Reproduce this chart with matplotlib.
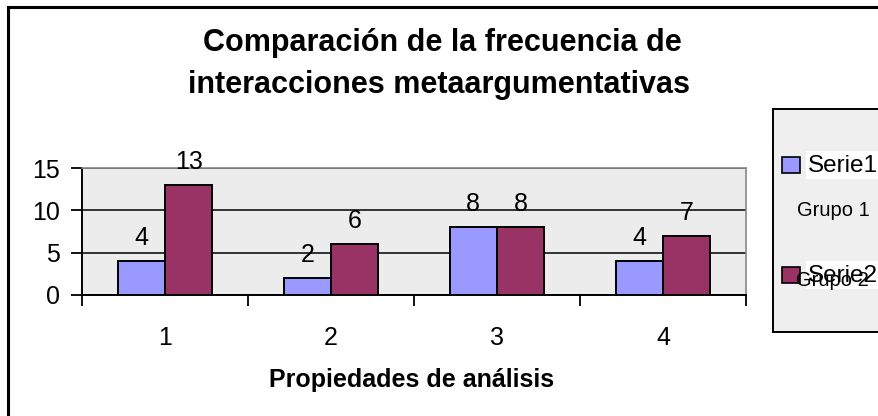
import matplotlib
matplotlib.use("Agg")
import matplotlib.pyplot as plt
from matplotlib.patches import Rectangle
import numpy as np

categories = ["1", "2", "3", "4"]
serie1 = [4, 2, 8, 4]
serie2 = [13, 6, 8, 7]
series_names = ["Serie1", "Serie2"]
group_names = ["Grupo 1", "Grupo 2"]
yticks = [0, 5, 10, 15]
title = "Comparación de la frecuencia de\ninteracciones metaargumentativas"
xlabel = "Propiedades de análisis"

W, H = 879, 416
plt.rcParams['font.family'] = ['Liberation Sans', 'DejaVu Sans']
fig = plt.figure(figsize=(W / 100, H / 100), dpi=100)

def fx(px):
    return px / W

def fy(py):
    return 1 - py / H

# outer frame
fig.patches.append(Rectangle((fx(8), fy(460)), 1.2, fy(7) - fy(460), transform=fig.transFigure,
                             fill=False, edgecolor='black', linewidth=2.2, zorder=0))

ax = fig.add_axes([fx(82), fy(295), fx(746) - fx(82), fy(168) - fy(295)])
ax.set_facecolor('#ECECEC')
x = np.arange(len(categories))
bw = 0.285
c1, c2 = '#9999FF', '#993366'
b1 = ax.bar(x - bw / 2, serie1, bw, color=c1, edgecolor='black', linewidth=1.4, zorder=3)
b2 = ax.bar(x + bw / 2, serie2, bw, color=c2, edgecolor='black', linewidth=1.4, zorder=3)
for bars, vals in ((b1, serie1), (b2, serie2)):
    for r, v in zip(bars, vals):
        ax.annotate(str(v), (r.get_x() + r.get_width() / 2, v), xytext=(0, 8),
                    textcoords='offset points', ha='center', va='bottom', fontsize=18,
                    annotation_clip=False, zorder=5)

ax.set_xlim(-0.5, len(categories) - 0.5)
ax.set_ylim(0, 15)
ax.set_yticks(yticks)
ax.set_yticklabels([str(t) for t in yticks], fontsize=18)
ax.yaxis.grid(True, color='black', linewidth=1.1, zorder=1)
ax.set_axisbelow(True)
ax.set_xticks(np.arange(len(categories) + 1) - 0.5)
ax.set_xticklabels([])
ax.set_xticks(x, minor=True)
ax.set_xticklabels(categories, minor=True, fontsize=18)
ax.tick_params(axis='x', which='major', length=8, width=1.3, direction='out')
ax.tick_params(axis='x', which='minor', length=0, pad=22)
ax.tick_params(axis='y', length=8, width=1.3, pad=8)
for s in ('left', 'bottom'):
    ax.spines[s].set_color('black')
    ax.spines[s].set_linewidth(1.4)
for s in ('top', 'right'):
    ax.spines[s].set_color('#888888')
    ax.spines[s].set_linewidth(1.2)

# title
fig.text(fx(442), fy(43), title.split("\n")[0], ha='center', va='center', fontsize=22, fontweight='bold')
fig.text(fx(439), fy(85), title.split("\n")[1], ha='center', va='center', fontsize=22, fontweight='bold')
fig.text(fx(412), fy(380), xlabel, ha='center', va='center', fontsize=18, fontweight='bold')

# legend (manual)
fig.patches.append(Rectangle((fx(773), fy(332)), 0.5, fy(109) - fy(332), transform=fig.transFigure,
                             facecolor='#EFEFEF', edgecolor='black', linewidth=1.4, zorder=1))
for i, (c, yc) in enumerate(((c1, 165), (c2, 275))):
    fig.patches.append(Rectangle((fx(782), fy(yc + 8)), fx(800) - fx(782), fy(yc - 8) - fy(yc + 8),
                                 transform=fig.transFigure, facecolor=c, edgecolor='black',
                                 linewidth=1.2, zorder=2))
    fig.patches.append(Rectangle((fx(806), fy(yc + 14)), 0.2, fy(yc - 14) - fy(yc + 14),
                                 transform=fig.transFigure, facecolor='white', edgecolor='none', zorder=2))
    fig.text(fx(808), fy(yc + 1), series_names[i], ha='left', va='center', fontsize=17.5, zorder=3)
fig.text(fx(797), fy(211), group_names[0], ha='left', va='center', fontsize=14.5, zorder=3)
fig.text(fx(796), fy(280), group_names[1], ha='left', va='center', fontsize=14.5, zorder=3)

fig.savefig("out.png", dpi=100)
